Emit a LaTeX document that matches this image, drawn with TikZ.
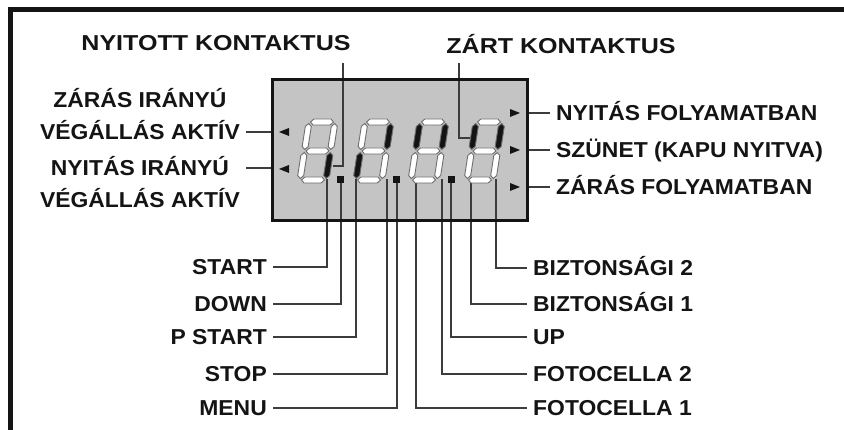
\documentclass[tikz,border=0pt]{standalone}
\usepackage{fontspec}
\newfontfamily\panelfont{Liberation Sans}[FakeStretch=1.06]
\definecolor{ink}{RGB}{20,20,20}
\definecolor{wire}{RGB}{60,60,60}
\definecolor{lcdgray}{RGB}{196,196,196}
\definecolor{segedge}{RGB}{110,110,110}
% one segment of a digit, in the digit's own (unslanted) frame
\newcommand\hseg[1]{(1.5,#1) -- (4.5,#1-3) -- (21.5,#1-3) -- (24.5,#1) -- (21.5,#1+3) -- (4.5,#1+3) -- cycle}
\newcommand\vseg[3]{(#1,#2+1.5) -- (#1+3,#2+4.5) -- (#1+3,#3-4.5) -- (#1,#3-1.5) -- (#1-3,#3-4.5) -- (#1-3,#2+4.5) -- cycle}

\begin{document}
\begin{tikzpicture}[x=1pt, y=-1pt,
  lbl/.style={font=\panelfont\bfseries\fontsize{21.6}{26}\selectfont, text=ink,
    text height=15.5pt, text depth=0pt, inner xsep=6pt, inner ysep=0pt},
  lbltop/.style={lbl, font=\panelfont\bfseries\fontsize{21.6}{26}\selectfont\addfontfeature{FakeStretch=1.16}},
  lbltwo/.style={font=\panelfont\bfseries\fontsize{21.6}{32}\selectfont, text=ink,
    align=center, inner xsep=6pt, inner ysep=0pt},
  wire/.style={draw=wire, line width=1.2pt},
  seg/.style={draw=segedge, line width=0.9pt}]
\useasboundingbox (0,0) rectangle (844,430);
\draw[ink, line width=5pt] (844,10) -- (10,10) -- (10,430);
% display window
\node[fill=lcdgray, minimum width=254pt, minimum height=140pt, inner sep=0pt] (lcd) at (400,150) {};
% where the wires meet the segments
\foreach \nm/\xx in {c1/327, p1/341, e2/356, c2/387, p2/397, e3/416, c3/442, p3/451, e4/471, c4/496}
  \coordinate (\nm) at (\xx,179);
\coordinate (nkx) at (343,166);
\coordinate (nkseg) at (333,166);
\coordinate (zkx) at (459,138);
\coordinate (zkseg) at (472,138);
\coordinate (zl) at (273,132);
\coordinate (nl) at (273,168);
% top labels
\node[lbltop, anchor=base] (nyitott) at (216,51) {NYITOTT KONTAKTUS};
\node[lbltop, anchor=base] (zart) at (561,54) {ZÁRT KONTAKTUS};
\draw[wire, shorten <=12pt] (nyitott.south -| nkx) -- (nkx) -- (nkseg);
\draw[wire, shorten <=9pt] (zart.south -| zkx) -- (zkx) -- (zkseg);
% left side
\node[lbltwo, anchor=east] (zaras) at (246,114) {ZÁRÁS IRÁNYÚ\\VÉGÁLLÁS AKTÍV};
\node[lbltwo, anchor=east] (nyitas) at (246,182) {NYITÁS IRÁNYÚ\\VÉGÁLLÁS AKTÍV};
\draw[wire] (zaras.east |- zl) -- (zl);
\draw[wire] (nyitas.east |- nl) -- (nl);
% right side
\foreach \nm/\txt/\yy in {nyfoly/NYITÁS FOLYAMATBAN/113, szunet/SZÜNET (KAPU NYITVA)/150, zafoly/ZÁRÁS FOLYAMATBAN/187} {
  \node[lbl, anchor=west] (\nm) at (550,\yy) {\txt};
  \draw[wire] (\nm.west) -- (\nm.west -| lcd.east);
}
% bottom rows
\foreach \nm/\txt/\yy/\tgt in {start/START/267/c1, down/DOWN/304/p1, pstart/P START/337/e2, stop/STOP/374/c2, menu/MENU/408/p2} {
  \node[lbl, anchor=east] (\nm) at (273,\yy) {\txt};
  \draw[wire] (\nm.east) -| (\tgt);
}
\foreach \nm/\txt/\yy/\tgt in {bizt2/BIZTONSÁGI 2/268/c4, bizt1/BIZTONSÁGI 1/304/e4, up/UP/337/p3, foto2/FOTOCELLA 2/374/c3, foto1/FOTOCELLA 1/408/e3} {
  \node[lbl, anchor=west] (\nm) at (527,\yy) {\txt};
  \draw[wire] (\nm.west) -| (\tgt);
}
% four slanted digits: x / a b c d e f g
\foreach \xo/\sa/\sb/\sc/\sd/\se/\sf/\sg in {
  300/white/white/ink/white/white/white/white,
  356/white/ink/white/white/ink/white/white,
  411/white/ink/white/white/white/ink/white,
  467/white/ink/white/white/white/ink/white} {
  \begin{scope}[shift={(\xo,180)}, xslant=0.155]
    \path[seg, fill=\sa] \hseg{-58};
    \path[seg, fill=\sg] \hseg{-29};
    \path[seg, fill=\sd] \hseg{0};
    \path[seg, fill=\sf] \vseg{0}{-58}{-29};
    \path[seg, fill=\sb] \vseg{26}{-58}{-29};
    \path[seg, fill=\se] \vseg{0}{-29}{0};
    \path[seg, fill=\sc] \vseg{26}{-29}{0};
  \end{scope}
}
\foreach \xo in {300,356,411}
  \fill[ink] (\xo+37,176) rectangle (\xo+44,183);
% status pips
\foreach \yy in {113,150,187}
  \fill[ink] (520,\yy) -- (510,\yy-4) -- (510,\yy+4) -- cycle;
\foreach \yy in {132,169}
  \fill[ink] (279,\yy) -- (289,\yy-4) -- (289,\yy+4) -- cycle;
\draw[ink, line width=3pt] (lcd.north west) rectangle (lcd.south east);
\end{tikzpicture}
\end{document}
